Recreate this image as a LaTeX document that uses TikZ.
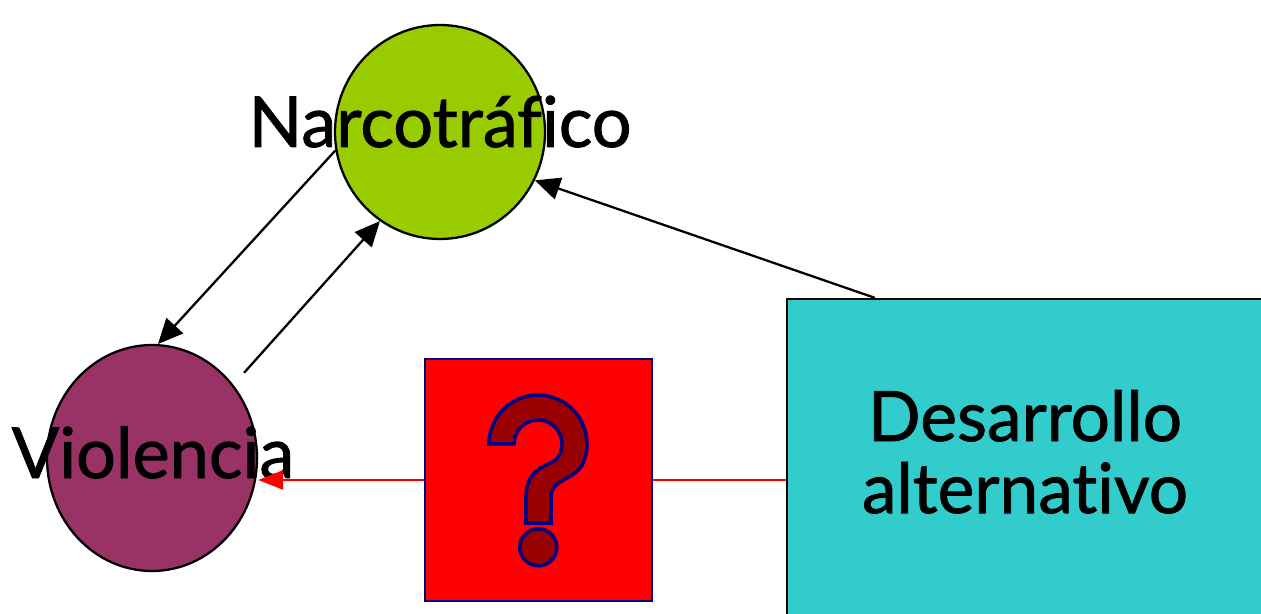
\documentclass[tikz,border=0pt]{standalone}
\usepackage{fontspec}
\setmainfont{Lato}[Ligatures={NoCommon,NoContextual}, FakeBold=1.2]
\usepackage{tikz}
\usetikzlibrary{arrows.meta,shapes.geometric}
\definecolor{narcogreen}{HTML}{99CC00}
\definecolor{violenciapurple}{HTML}{993366}
\definecolor{desarrolloteal}{HTML}{33CCCC}
\definecolor{questred}{HTML}{990000}
\definecolor{questnavy}{HTML}{000080}
\tikzset{
	blob/.style={ellipse, draw=black, line width=1.3pt, inner sep=0pt},
	bigtext/.style={font=\fontsize{40}{45}\selectfont, inner sep=0pt},
	link/.style={line width=1.3pt, -{Triangle[length=0.5cm,width=0.45cm]}}
}

\begin{document}
\begin{tikzpicture}
			%%%%% START %%%%%
			\useasboundingbox (0, 0) rectangle (25.22, 12.26);
			
			\node[blob, fill=narcogreen, minimum width=4.2cm, minimum height=4.28cm] (narco) at (8.8, 9.62) {};
			\node[blob, fill=violenciapurple, minimum width=4.2cm, minimum height=4.52cm] (violencia) at (3.04, 3.1) {};
			\node[draw=black, line width=1.3pt, fill=desarrolloteal, minimum width=9.56cm, minimum height=6.58cm] (desarrollo) at (20.52, 2.99) {};
			
			\node[bigtext, anchor=base] (narcotxt) at (8.8, 9.32) {Narcotráf\kern0pt ico};
			\node[bigtext, anchor=base] (violenciatxt) at (3.06, 2.7) {Violencia};
			\node[font=\fontsize{39.5}{41}\selectfont, align=center, inner sep=0pt, text depth=0pt] (desarrollotxt) at (20.5, 3.23) {Desarrollo\\alternat\kern0pt ivo};
			
			\draw[link] (narco.190) -- (violencia.87);
			\draw[link, shorten <=0.32cm] (violencia.42) -- (narco.236);
			\draw[link] ([xshift=1.78cm]desarrollo.north west) -- (narco.333);
			
			\coordinate (qc) at (10.77, 2.66);
			\draw[red, line width=1.3pt, -{Triangle[length=0.5cm,width=0.38cm]}] (qc -| desarrollo.west) -- (qc -| violencia.east);
			\node[draw=questnavy, line width=1.1pt, fill=red, minimum width=4.54cm, minimum height=4.84cm] (quest) at (qc) {};
			
			% question mark
			\draw[questnavy, line width=2pt, fill=questred] (9.78, 3.38) arc (180:-20:0.98)
				.. controls (11.56, 2.66) and (11.02, 2.7) .. (11.02, 2.32) -- (11.02, 1.8) -- (10.52, 1.8) -- (10.52, 2.32)
				.. controls (10.52, 2.9) and (10.96, 2.94) .. (11.128, 3.072) arc (-40:180:0.48) -- cycle;
			\draw[questnavy, line width=2pt, fill=questred] (10.766, 1.314) circle (0.37);
			
			%%%%% END %%%%%
		\end{tikzpicture}
\end{document}
